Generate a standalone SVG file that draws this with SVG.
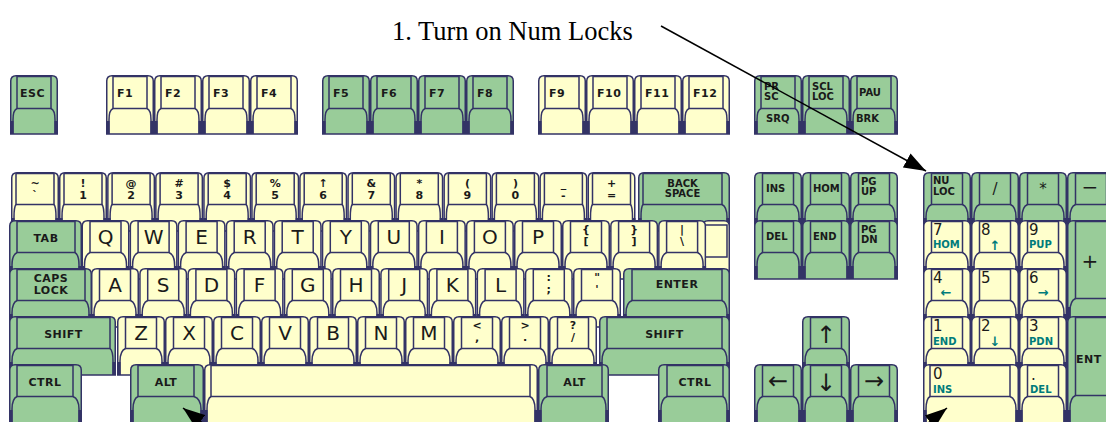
<svg xmlns="http://www.w3.org/2000/svg" xmlns:xlink="http://www.w3.org/1999/xlink" width="1106" height="422" viewBox="0 0 1106 422">
<style>
.o{stroke:#333366;stroke-width:1.5}
.s{fill:none;stroke:#333366;stroke-width:1.5}
.d{fill:#333366}
.g{fill:#99cc99}
.y{fill:#ffffcc}
.t{font-family:"DejaVu Sans",sans-serif;font-weight:bold;font-size:11px;fill:#1a1a1a;letter-spacing:0.5px}
.m{text-anchor:middle}
.sm{font-family:"DejaVu Sans",sans-serif;font-weight:bold;font-size:10px;fill:#1a1a1a}
.sx{font-family:"DejaVu Sans",sans-serif;font-weight:bold;font-size:11px;fill:#1a1a1a;text-anchor:middle}
.L{font-family:"DejaVu Sans",sans-serif;font-size:20px;fill:#1a1a1a;text-anchor:middle}
.n{font-family:"DejaVu Sans",sans-serif;font-size:15px;fill:#1a1a1a}
.c{font-family:"DejaVu Sans",sans-serif;font-weight:bold;font-size:10px;fill:#007b7b}
.ca{font-family:"DejaVu Sans",sans-serif;font-weight:bold;font-size:13px;fill:#007b7b;text-anchor:middle}
.ar{font-family:"DejaVu Sans",sans-serif;font-size:24px;fill:#1a1a1a;text-anchor:middle}
.lab{font-family:"Liberation Serif","Times New Roman",serif;font-size:26.5px;fill:#000}
.cn{stroke:#000;stroke-width:1.5;fill:none}
</style>
<defs>
<g id="KF">
<path class="o" d="M0.75,59 V6 Q0.75,0.75 6,0.75 H42 Q47.25,0.75 47.25,6 V59 Z"/>
<rect class="o" x="7" y="1.5" width="34" height="32"/>
<path class="s" d="M7,33.5 Q3,35 3,45 V59 M41,33.5 Q45,35 45,45 V59"/>
<path class="d" d="M0,46 h3.5 v13 h-3.5 Z M44.5,46 h3.5 v13 h-3.5 Z"/>
</g>
<g id="KN">
<path class="o" d="M0.75,59 V6 Q0.75,0.75 6,0.75 H42 Q47.25,0.75 47.25,6 V59 Z"/>
<rect class="o" x="5" y="1.5" width="38" height="31"/>
<path class="s" d="M5,32.5 Q3,35 3,45 V59 M43,32.5 Q45,35 45,45 V59"/>
<path class="d" d="M0,46 h3.5 v13 h-3.5 Z M44.5,46 h3.5 v13 h-3.5 Z"/>
</g>
<g id="KL">
<path class="o" d="M0.75,59 V6 Q0.75,0.75 6,0.75 H42 Q47.25,0.75 47.25,6 V59 Z"/>
<rect class="o" x="8.5" y="1.5" width="31" height="31"/>
<path class="s" d="M8.5,32.5 Q3,35 3,45 V59 M39.5,32.5 Q45,35 45,45 V59"/>
<path class="d" d="M0,46 h3.5 v13 h-3.5 Z M44.5,46 h3.5 v13 h-3.5 Z"/>
</g>
<marker id="ah" markerUnits="userSpaceOnUse" markerWidth="22" markerHeight="16" refX="22" refY="8" orient="auto">
<path d="M0,0 L22,8 L0,16 Z" fill="#000"/>
</marker>
</defs>

<!-- Function row -->
<g id="key-esc"><use href="#KF" x="10" y="75" class="g"/><text class="t" x="20" y="97">ESC</text></g>
<g id="key-f1"><use href="#KF" x="106" y="75" class="y"/><text class="t" x="117" y="97">F1</text></g>
<g id="key-f2"><use href="#KF" x="154" y="75" class="y"/><text class="t" x="165" y="97">F2</text></g>
<g id="key-f3"><use href="#KF" x="202" y="75" class="y"/><text class="t" x="213" y="97">F3</text></g>
<g id="key-f4"><use href="#KF" x="250" y="75" class="y"/><text class="t" x="261" y="97">F4</text></g>
<g id="key-f5"><use href="#KF" x="322" y="75" class="g"/><text class="t" x="333" y="97">F5</text></g>
<g id="key-f6"><use href="#KF" x="370" y="75" class="g"/><text class="t" x="381" y="97">F6</text></g>
<g id="key-f7"><use href="#KF" x="418" y="75" class="g"/><text class="t" x="429" y="97">F7</text></g>
<g id="key-f8"><use href="#KF" x="466" y="75" class="g"/><text class="t" x="477" y="97">F8</text></g>
<g id="key-f9"><use href="#KF" x="538" y="75" class="y"/><text class="t" x="549" y="97">F9</text></g>
<g id="key-f10"><use href="#KF" x="586" y="75" class="y"/><text class="t" x="597" y="97">F10</text></g>
<g id="key-f11"><use href="#KF" x="634" y="75" class="y"/><text class="t" x="645" y="97">F11</text></g>
<g id="key-f12"><use href="#KF" x="682" y="75" class="y"/><text class="t" x="693" y="97">F12</text></g>
<g id="key-prsc"><use href="#KF" x="754" y="75" class="g"/><text class="sm" x="764" y="90">PR</text><text class="sm" x="764" y="100">SC</text><text class="sm" x="766" y="122">SRQ</text></g>
<g id="key-scl"><use href="#KF" x="802" y="75" class="g"/><text class="sm" x="812" y="90">SCL</text><text class="sm" x="812" y="100">LOC</text></g>
<g id="key-pau"><use href="#KF" x="850" y="75" class="g"/><text class="sm" x="859" y="96">PAU</text><text class="sm" x="856" y="122">BRK</text></g>

<!-- Number row -->
<g id="key-tilde"><use href="#KN" x="11" y="172" class="y"/><text class="sx" x="35" y="187">~</text><text class="sx" x="35" y="199">`</text></g>
<g id="key-1"><use href="#KN" x="59" y="172" class="y"/><text class="sx" x="83" y="187">!</text><text class="sx" x="83" y="199">1</text></g>
<g id="key-2"><use href="#KN" x="107.1" y="172" class="y"/><text class="sx" x="131.1" y="187">@</text><text class="sx" x="131.1" y="199">2</text></g>
<g id="key-3"><use href="#KN" x="155.1" y="172" class="y"/><text class="sx" x="179.1" y="187">#</text><text class="sx" x="179.1" y="199">3</text></g>
<g id="key-4"><use href="#KN" x="203.2" y="172" class="y"/><text class="sx" x="227.2" y="187">$</text><text class="sx" x="227.2" y="199">4</text></g>
<g id="key-5"><use href="#KN" x="251.2" y="172" class="y"/><text class="sx" x="275.2" y="187">%</text><text class="sx" x="275.2" y="199">5</text></g>
<g id="key-6"><use href="#KN" x="299.2" y="172" class="y"/><text class="sx" x="323.2" y="187">↑</text><text class="sx" x="323.2" y="199">6</text></g>
<g id="key-7"><use href="#KN" x="347.3" y="172" class="y"/><text class="sx" x="371.3" y="187">&amp;</text><text class="sx" x="371.3" y="199">7</text></g>
<g id="key-8"><use href="#KN" x="395.3" y="172" class="y"/><text class="sx" x="419.3" y="187">*</text><text class="sx" x="419.3" y="199">8</text></g>
<g id="key-9"><use href="#KN" x="443.4" y="172" class="y"/><text class="sx" x="467.4" y="187">(</text><text class="sx" x="467.4" y="199">9</text></g>
<g id="key-0"><use href="#KN" x="491.4" y="172" class="y"/><text class="sx" x="515.4" y="187">)</text><text class="sx" x="515.4" y="199">0</text></g>
<g id="key-minus"><use href="#KN" x="539.4" y="172" class="y"/><text class="sx" x="563.4" y="187">_</text><text class="sx" x="563.4" y="199">-</text></g>
<g id="key-equal"><use href="#KN" x="587.5" y="172" class="y"/><text class="sx" x="611.5" y="187">+</text><text class="sx" x="611.5" y="199">=</text></g>
<g id="key-backspace">
<path class="o g" d="M638.75,231 V178 Q638.75,172.75 644,172.75 H724 Q729.25,172.75 729.25,178 V231 Z"/>
<rect class="o g" x="643" y="173.5" width="79" height="31"/>
<path class="s" d="M643,204.5 Q641,207 641,217 V231 M722,204.5 Q727,207 727,217 V231"/>
<path class="d" d="M638,218 h3.5 V231 h-3.5Z M726.5,218 h3.5 V231 h-3.5Z"/>
<text class="sm m" x="682.5" y="187">BACK</text><text class="sm m" x="682.5" y="197">SPACE</text>
</g>

<!-- Q row -->
<g id="key-blank">
<path class="o y" d="M702.75,279 V226 Q702.75,220.75 708,220.75 H724 Q729.25,220.75 729.25,226 V279 Z"/>
<rect class="o y" x="704" y="225" width="23" height="32"/>
</g>
<g id="key-tab">
<path class="o g" d="M9.75,279 V226 Q9.75,220.75 15,220.75 H76 Q81.25,220.75 81.25,226 V279 Z"/>
<rect class="o g" x="17" y="221.5" width="58" height="31"/>
<path class="s" d="M17,252.5 Q12,255 12,265 V279 M75,252.5 Q79,255 79,265 V279"/>
<path class="d" d="M9,266 h3.5 V279 h-3.5Z M78.5,266 h3.5 V279 h-3.5Z"/>
<text class="t m" x="46" y="242">TAB</text>
</g>
<g id="key-q"><use href="#KL" x="81.5" y="220" class="y"/><text class="L" x="105.5" y="244">Q</text></g>
<g id="key-w"><use href="#KL" x="129.6" y="220" class="y"/><text class="L" x="153.6" y="244">W</text></g>
<g id="key-e"><use href="#KL" x="177.6" y="220" class="y"/><text class="L" x="201.6" y="244">E</text></g>
<g id="key-r"><use href="#KL" x="225.7" y="220" class="y"/><text class="L" x="249.7" y="244">R</text></g>
<g id="key-t"><use href="#KL" x="273.7" y="220" class="y"/><text class="L" x="297.7" y="244">T</text></g>
<g id="key-y"><use href="#KL" x="321.8" y="220" class="y"/><text class="L" x="345.8" y="244">Y</text></g>
<g id="key-u"><use href="#KL" x="369.8" y="220" class="y"/><text class="L" x="393.8" y="244">U</text></g>
<g id="key-i"><use href="#KL" x="417.9" y="220" class="y"/><text class="L" x="441.9" y="244">I</text></g>
<g id="key-o"><use href="#KL" x="465.9" y="220" class="y"/><text class="L" x="489.9" y="244">O</text></g>
<g id="key-p"><use href="#KL" x="514" y="220" class="y"/><text class="L" x="538" y="244">P</text></g>
<g id="key-lbracket"><use href="#KL" x="562" y="220" class="y"/><text class="sx" x="586" y="233">{</text><text class="sx" x="586" y="245">[</text></g>
<g id="key-rbracket"><use href="#KL" x="610.1" y="220" class="y"/><text class="sx" x="634.1" y="233">}</text><text class="sx" x="634.1" y="245">]</text></g>
<g id="key-backslash"><use href="#KL" x="658.1" y="220" class="y"/><text class="sx" x="682.1" y="233">|</text><text class="sx" x="682.1" y="245">\</text></g>

<!-- A row -->
<g id="key-caps">
<path class="o g" d="M9.75,327 V274 Q9.75,268.75 15,268.75 H86 Q91.25,268.75 91.25,274 V327 Z"/>
<rect class="o g" x="17" y="269.5" width="68" height="31"/>
<path class="s" d="M17,300.5 Q12,303 12,313 V327 M85,300.5 Q89,303 89,313 V327"/>
<path class="d" d="M9,314 h3.5 V327 h-3.5Z M88.5,314 h3.5 V327 h-3.5Z"/>
<text class="t m" x="51" y="282">CAPS</text><text class="t m" x="51" y="294">LOCK</text>
</g>
<g id="key-a"><use href="#KL" x="91" y="268" class="y"/><text class="L" x="115" y="292">A</text></g>
<g id="key-s"><use href="#KL" x="139.2" y="268" class="y"/><text class="L" x="163.2" y="292">S</text></g>
<g id="key-d"><use href="#KL" x="187.4" y="268" class="y"/><text class="L" x="211.4" y="292">D</text></g>
<g id="key-f"><use href="#KL" x="235.6" y="268" class="y"/><text class="L" x="259.6" y="292">F</text></g>
<g id="key-g"><use href="#KL" x="283.8" y="268" class="y"/><text class="L" x="307.8" y="292">G</text></g>
<g id="key-h"><use href="#KL" x="332" y="268" class="y"/><text class="L" x="356" y="292">H</text></g>
<g id="key-j"><use href="#KL" x="380.2" y="268" class="y"/><text class="L" x="404.2" y="292">J</text></g>
<g id="key-k"><use href="#KL" x="428.4" y="268" class="y"/><text class="L" x="452.4" y="292">K</text></g>
<g id="key-l"><use href="#KL" x="476.6" y="268" class="y"/><text class="L" x="500.6" y="292">L</text></g>
<g id="key-semicolon"><use href="#KL" x="524.8" y="268" class="y"/><text class="sx" x="548.8" y="281">:</text><text class="sx" x="548.8" y="293">;</text></g>
<g id="key-quote"><use href="#KL" x="573" y="268" class="y"/><text class="sx" x="597" y="281">"</text><text class="sx" x="597" y="293">'</text></g>
<g id="key-enter">
<path class="o g" d="M623.75,327 V274 Q623.75,268.75 629,268.75 H724 Q729.25,268.75 729.25,274 V327 Z"/>
<rect class="o g" x="632" y="269.5" width="90" height="31"/>
<path class="s" d="M632,300.5 Q626,303 626,313 V327 M722,300.5 Q727,303 727,313 V327"/>
<path class="d" d="M623,314 h3.5 V327 h-3.5Z M726.5,314 h3.5 V327 h-3.5Z"/>
<text class="t m" x="677" y="288">ENTER</text>
</g>

<!-- Z row -->
<g id="key-lshift">
<path class="o g" d="M9.75,375 V322 Q9.75,316.75 15,316.75 H110 Q115.25,316.75 115.25,322 V375 Z"/>
<rect class="o g" x="17" y="317.5" width="93" height="31"/>
<path class="s" d="M17,348.5 Q12,351 12,361 V375 M110,348.5 Q113,351 113,361 V375"/>
<path class="d" d="M9,362 h3.5 V375 h-3.5Z M112.5,362 h3.5 V375 h-3.5Z"/>
<text class="t m" x="63.5" y="338">SHIFT</text>
</g>
<g id="key-z"><use href="#KL" x="117" y="316" class="y"/><text class="L" x="141" y="340">Z</text></g>
<g id="key-x"><use href="#KL" x="165" y="316" class="y"/><text class="L" x="189" y="340">X</text></g>
<g id="key-c"><use href="#KL" x="213" y="316" class="y"/><text class="L" x="237" y="340">C</text></g>
<g id="key-v"><use href="#KL" x="261" y="316" class="y"/><text class="L" x="285" y="340">V</text></g>
<g id="key-b"><use href="#KL" x="309" y="316" class="y"/><text class="L" x="333" y="340">B</text></g>
<g id="key-n"><use href="#KL" x="357" y="316" class="y"/><text class="L" x="381" y="340">N</text></g>
<g id="key-m"><use href="#KL" x="405" y="316" class="y"/><text class="L" x="429" y="340">M</text></g>
<g id="key-comma"><use href="#KL" x="453" y="316" class="y"/><text class="sx" x="477" y="329">&lt;</text><text class="sx" x="477" y="341">,</text></g>
<g id="key-period"><use href="#KL" x="501" y="316" class="y"/><text class="sx" x="525" y="329">&gt;</text><text class="sx" x="525" y="341">.</text></g>
<g id="key-slash"><use href="#KL" x="549" y="316" class="y"/><text class="sx" x="573" y="329">?</text><text class="sx" x="573" y="341">/</text></g>
<g id="key-rshift">
<path class="o g" d="M599.75,375 V322 Q599.75,316.75 605,316.75 H724 Q729.25,316.75 729.25,322 V375 Z"/>
<rect class="o g" x="607" y="317.5" width="115" height="31"/>
<path class="s" d="M607,348.5 Q602,351 602,361 V375 M722,348.5 Q727,351 727,361 V375"/>
<path class="d" d="M599,362 h3.5 V375 h-3.5Z M726.5,362 h3.5 V375 h-3.5Z"/>
<text class="t m" x="664.5" y="338">SHIFT</text>
</g>

<!-- Bottom row -->
<g id="key-lctrl">
<path class="o g" d="M9.75,424 V370 Q9.75,364.75 15,364.75 H76 Q81.25,364.75 81.25,370 V424 Z"/>
<rect class="o g" x="17" y="365.5" width="56" height="31"/>
<path class="s" d="M17,396.5 Q12,399 12,409 V424 M73,396.5 Q79,399 79,409 V424"/>
<path class="d" d="M9,410 h3.5 V424 h-3.5Z M78.5,410 h3.5 V424 h-3.5Z"/>
<text class="t m" x="45" y="386">CTRL</text>
</g>
<g id="key-lalt">
<path class="o g" d="M130.75,424 V370 Q130.75,364.75 136,364.75 H198 Q203.25,364.75 203.25,370 V424 Z"/>
<rect class="o g" x="138" y="365.5" width="56" height="31"/>
<path class="s" d="M138,396.5 Q133,399 133,409 V424 M194,396.5 Q201,399 201,409 V424"/>
<path class="d" d="M130,410 h3.5 V424 h-3.5Z M200.5,410 h3.5 V424 h-3.5Z"/>
<text class="t m" x="166" y="386">ALT</text>
</g>
<g id="key-space">
<path class="o y" d="M204.75,424 V370 Q204.75,364.75 210,364.75 H532 Q537.25,364.75 537.25,370 V424 Z"/>
<rect class="o y" x="211" y="365.5" width="319" height="31"/>
<path class="s" d="M211,396.5 Q207,399 207,409 V424 M530,396.5 Q535,399 535,409 V424"/>
<path class="d" d="M204,410 h3.5 V424 h-3.5Z M534.5,410 h3.5 V424 h-3.5Z"/>
</g>
<g id="key-ralt">
<path class="o g" d="M538.75,424 V370 Q538.75,364.75 544,364.75 H603 Q608.25,364.75 608.25,370 V424 Z"/>
<rect class="o g" x="547" y="365.5" width="55" height="31"/>
<path class="s" d="M547,396.5 Q541,399 541,409 V424 M602,396.5 Q606,399 606,409 V424"/>
<path class="d" d="M538,410 h3.5 V424 h-3.5Z M605.5,410 h3.5 V424 h-3.5Z"/>
<text class="t m" x="574.5" y="386">ALT</text>
</g>
<g id="key-rctrl">
<path class="o g" d="M658.75,424 V370 Q658.75,364.75 664,364.75 H724 Q729.25,364.75 729.25,370 V424 Z"/>
<rect class="o g" x="667" y="365.5" width="56" height="31"/>
<path class="s" d="M667,396.5 Q661,399 661,409 V424 M723,396.5 Q727,399 727,409 V424"/>
<path class="d" d="M658,410 h3.5 V424 h-3.5Z M726.5,410 h3.5 V424 h-3.5Z"/>
<text class="t m" x="695" y="386">CTRL</text>
</g>

<!-- Edit cluster -->
<g id="key-ins"><use href="#KL" x="754" y="172" class="g"/><text class="sm" x="766" y="192">INS</text></g>
<g id="key-home"><use href="#KL" x="802" y="172" class="g"/><text class="sm" x="813" y="192">HOM</text></g>
<g id="key-pgup"><use href="#KL" x="850" y="172" class="g"/><text class="sm" x="861" y="185">PG</text><text class="sm" x="861" y="195">UP</text></g>
<g id="key-del"><use href="#KL" x="754" y="220" class="g"/><text class="sm" x="766" y="240">DEL</text></g>
<g id="key-end"><use href="#KL" x="802" y="220" class="g"/><text class="sm" x="813" y="240">END</text></g>
<g id="key-pgdn"><use href="#KL" x="850" y="220" class="g"/><text class="sm" x="861" y="233">PG</text><text class="sm" x="861" y="243">DN</text></g>

<!-- Arrow keys -->
<g id="key-up"><use href="#KL" x="802" y="316" class="g"/><text class="ar" x="826" y="343">↑</text></g>
<g id="key-left"><use href="#KL" x="754" y="364" class="g"/><text class="ar" x="778" y="389">←</text></g>
<g id="key-down"><use href="#KL" x="802" y="364" class="g"/><text class="ar" x="826" y="391">↓</text></g>
<g id="key-right"><use href="#KL" x="850" y="364" class="g"/><text class="ar" x="874" y="389">→</text></g>

<!-- Numeric keypad -->
<g id="key-numlock"><use href="#KL" x="923" y="172" class="g"/><text class="sm" x="933" y="184">NU</text><text class="sm" x="933" y="195">LOC</text></g>
<g id="key-kpdiv"><use href="#KL" x="971" y="172" class="g"/><text class="n m" x="995" y="194">/</text></g>
<g id="key-kpmul"><use href="#KL" x="1019" y="172" class="g"/><text class="n m" x="1043" y="194">*</text></g>
<g id="key-kpminus"><use href="#KL" x="1067" y="172" class="g"/><text class="L" x="1090" y="194">−</text></g>
<g id="key-kp7"><use href="#KL" x="923" y="220" class="y"/><text class="n" x="933" y="235">7</text><text class="c" x="933" y="248">HOM</text></g>
<g id="key-kp8"><use href="#KL" x="971" y="220" class="y"/><text class="n" x="981" y="235">8</text><text class="ca" x="995" y="250">↑</text></g>
<g id="key-kp9"><use href="#KL" x="1019" y="220" class="y"/><text class="n" x="1029" y="235">9</text><text class="c" x="1029" y="248">PUP</text></g>
<g id="key-kpplus">
<path class="o g" d="M1067.75,320 V226 Q1067.75,220.75 1073,220.75 H1109 Q1114.25,220.75 1114.25,226 V320 Z"/>
<rect class="o g" x="1075.5" y="221.5" width="37" height="77"/>
<path class="s" d="M1075.5,298.5 Q1070,301 1070,311 V320"/>
<path class="d" d="M1067,307 h3.5 V320 h-3.5Z"/>
<text class="L" x="1090" y="268">+</text>
</g>
<g id="key-kp4"><use href="#KL" x="923" y="268" class="y"/><text class="n" x="933" y="283">4</text><text class="ca" x="946" y="297">←</text></g>
<g id="key-kp5"><use href="#KL" x="971" y="268" class="y"/><text class="n" x="981" y="283">5</text></g>
<g id="key-kp6"><use href="#KL" x="1019" y="268" class="y"/><text class="n" x="1029" y="283">6</text><text class="ca" x="1043" y="297">→</text></g>
<g id="key-kp1"><use href="#KL" x="923" y="316" class="y"/><text class="n" x="933" y="331">1</text><text class="c" x="933" y="345">END</text></g>
<g id="key-kp2"><use href="#KL" x="971" y="316" class="y"/><text class="n" x="981" y="331">2</text><text class="ca" x="995" y="346">↓</text></g>
<g id="key-kp3"><use href="#KL" x="1019" y="316" class="y"/><text class="n" x="1029" y="331">3</text><text class="c" x="1029" y="345">PDN</text></g>
<g id="key-kpenter">
<path class="o g" d="M1067.75,424 V322 Q1067.75,316.75 1073,316.75 H1109 Q1114.25,316.75 1114.25,322 V424 Z"/>
<rect class="o g" x="1075.5" y="317.5" width="37" height="78"/>
<path class="s" d="M1075.5,395.5 Q1070,398 1070,408 V424"/>
<path class="d" d="M1067,410 h3.5 V424 h-3.5Z"/>
<text class="t" x="1076" y="363">ENT</text>
</g>
<g id="key-kp0">
<path class="o y" d="M923.75,424 V370 Q923.75,364.75 929,364.75 H1013 Q1018.25,364.75 1018.25,370 V424 Z"/>
<rect class="o y" x="930" y="365.5" width="80" height="31"/>
<path class="s" d="M930,396.5 Q926,399 926,409 V424 M1010,396.5 Q1016,399 1016,409 V424"/>
<path class="d" d="M923,410 h3.5 V424 h-3.5Z M1015.5,410 h3.5 V424 h-3.5Z"/>
<text class="n" x="933" y="379">0</text><text class="c" x="933" y="393">INS</text>
</g>
<g id="key-kpdot"><use href="#KL" x="1019" y="364" class="y"/><text class="n" x="1031" y="380">.</text><text class="c" x="1030" y="393">DEL</text></g>

<!-- Label -->
<g id="label-numlock"><text class="lab" x="392" y="40">1. Turn on Num Locks</text></g>

<!-- Connectors -->
<g id="connectors">
<line class="cn" x1="661" y1="26" x2="926" y2="171" marker-end="url(#ah)"/>
<line class="cn" x1="244" y1="455" x2="183" y2="408" marker-end="url(#ah)"/>
<line class="cn" x1="888" y1="455" x2="947" y2="408" marker-end="url(#ah)"/>
</g>
</svg>
